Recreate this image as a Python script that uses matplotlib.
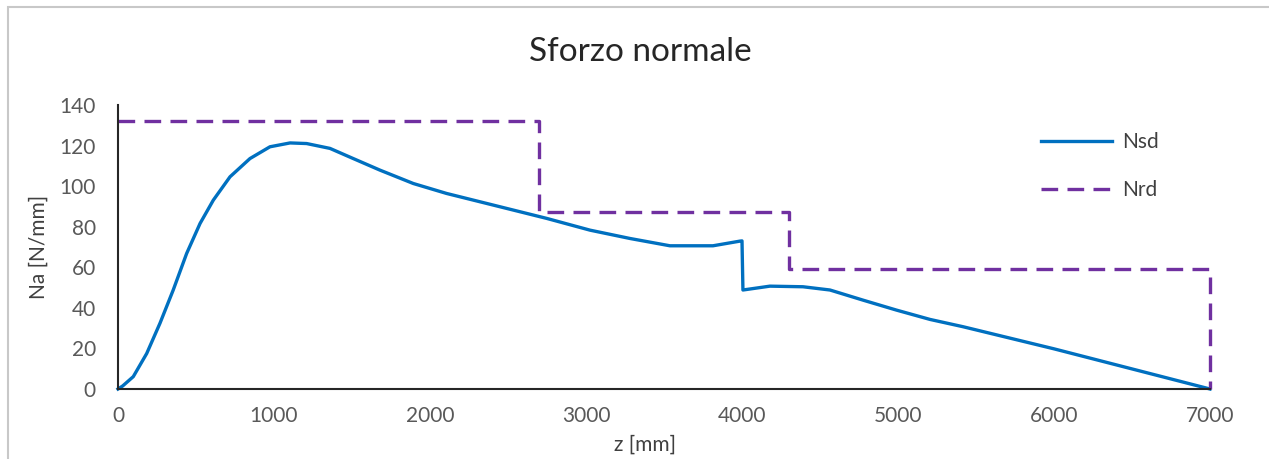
import numpy as np
import matplotlib.pyplot as plt
from matplotlib.patches import Rectangle

# Nsd curve
z_sd = [0, 30, 98, 184, 269, 354, 440, 526, 611, 718, 846, 974, 1103, 1209,
        1359, 1508, 1679, 1893, 2106, 2320, 2534, 2748, 3026, 3282, 3538,
        3814, 3987, 4000, 4006, 4179, 4391, 4564, 4776, 4990, 5205, 5417,
        6000, 7000]
n_sd = [0, 1.5, 6.1, 17.5, 32.4, 48.8, 66.8, 81.6, 93.1, 104.6, 113.6, 119.4,
        121.3, 121.0, 118.6, 113.6, 107.9, 101.3, 96.4, 92.3, 88.2, 84.1,
        78.3, 74.2, 70.6, 70.6, 72.9, 73.0, 48.8, 50.7, 50.4, 48.8, 43.8,
        38.9, 34.3, 30.7, 19.8, 0]

# Nrd step line
z_rd = [0, 2700, 2700, 4300, 4300, 7000, 7000]
n_rd = [132, 132, 87.5, 87.5, 59, 59, 0]

xticks = [0, 1000, 2000, 3000, 4000, 5000, 6000, 7000]
yticks = [0, 20, 40, 60, 80, 100, 120, 140]

plt.rcParams['font.family'] = ['Lato', 'DejaVu Sans']

fig = plt.figure(figsize=(12.69, 4.59), dpi=100)
ax = fig.add_axes([118 / 1269, 1 - 389 / 459, (1210 - 118) / 1269, (389 - 105) / 459])

ax.plot(z_sd, n_sd, color='#0070C0', lw=2.4, label='Nsd',
        solid_joinstyle='round', clip_on=False)
ax.plot(z_rd, n_rd, color='#7030A0', lw=2.4, ls=(0, (5, 2.8)), label='Nrd',
        clip_on=False)

ax.set_xlim(0, 7000)
ax.set_ylim(0, 140)
ax.set_xticks(xticks)
ax.set_yticks(yticks)
ax.tick_params(length=0, labelsize=15, labelcolor='#595959')
ax.tick_params(axis='x', pad=12)
ax.tick_params(axis='y', pad=16)
for s in ['top', 'right']:
    ax.spines[s].set_visible(False)
for s in ['left', 'bottom']:
    ax.spines[s].set_color('#262626')
    ax.spines[s].set_linewidth(1.5)

ax.set_xlabel('z [mm]', fontsize=15, color='#404040')
ax.xaxis.set_label_coords((645 - 118) / 1092, -0.16)
ax.set_ylabel('Na [N/mm]', fontsize=15, color='#404040', labelpad=8)

# title centred on the whole chart area, as in the original
fig.text(640 / 1269, 1 - 52 / 459, 'Sforzo normale', fontsize=24,
         color='#262626', ha='center', va='center')

leg = ax.legend(loc='upper left', bbox_to_anchor=(0.828, 0.97), frameon=False,
                fontsize=15, handlelength=3.4, handletextpad=0.5,
                labelspacing=1.35, labelcolor='#404040')

# light chart border
fig.patches.append(Rectangle((8 / 1269, -0.1), 1.2, 1 - 7 / 459 + 0.1,
                             transform=fig.transFigure, fill=False,
                             edgecolor='#C8C8C8', lw=1.5))

fig.savefig('out.png', dpi=100)
